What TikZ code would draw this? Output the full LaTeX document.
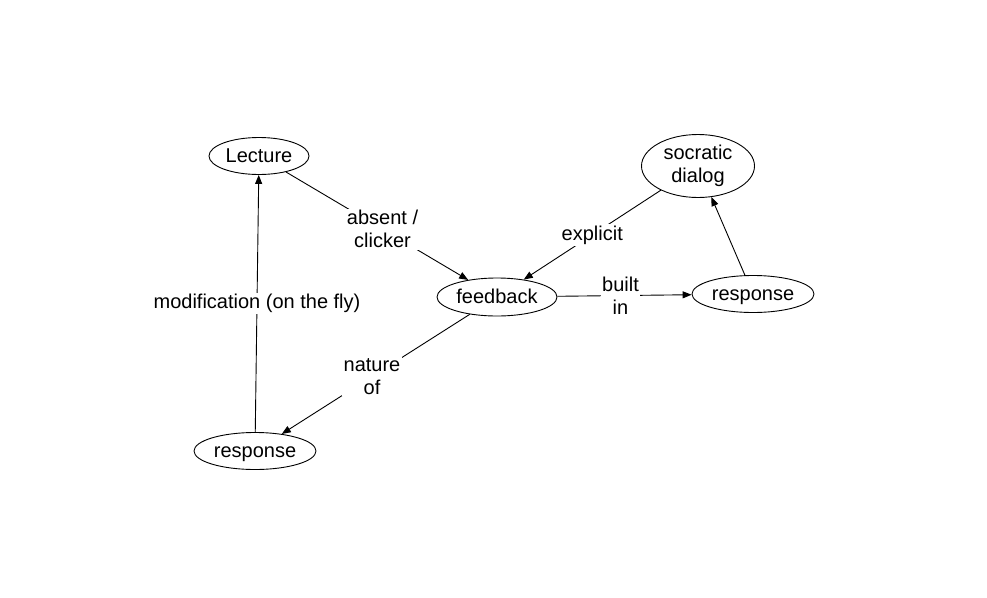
\documentclass[tikz,border=0pt]{standalone}
\usepackage{fontspec}
\setmainfont{Liberation Sans}
\usetikzlibrary{shapes.geometric,arrows.meta}
\tikzset{
  concept/.style={draw,ellipse,inner sep=0pt,line width=0.9pt},
  single/.style={text height=12pt,text depth=0pt},
  link/.style={line width=0.9pt,arrows={-Triangle[length=9pt,width=7pt]}},
  lbl/.style={fill=white,align=center,inner sep=1.5pt}
}
\begin{document}
\begin{tikzpicture}[x=1pt,y=-1pt,font=\fontsize{20}{23}\selectfont]
\useasboundingbox (0,0) rectangle (987,597);
\node[concept,single,minimum width=100pt,minimum height=37pt] (lecture) at (259,156) {Lecture};
\node[concept,single,minimum width=120pt,minimum height=38pt] (feedback) at (497,297) {feedback};
\node[concept,minimum width=113pt,minimum height=63pt,align=center] (socratic) at (698,166) {socratic\\dialog};
\node[concept,single,minimum width=122pt,minimum height=37pt] (respright) at (753,294) {response};
\node[concept,single,minimum width=122pt,minimum height=37pt] (respleft) at (255,451) {response};
\draw[link] (lecture) -- node[lbl,pos=0.53]{absent /\\clicker} (feedback);
\draw[link] (socratic) -- node[lbl,pos=0.5]{explicit} (feedback);
\draw[link] (feedback) -- node[lbl,pos=0.47]{built\\in} (respright);
\draw[link] (respright) -- (socratic);
\draw[link] (feedback) -- node[lbl,pos=0.52]{nature\\of} (respleft);
\draw[link] (respleft) -- node[lbl,pos=0.5]{modification (on the fly)} (lecture);
\end{tikzpicture}
\end{document}
